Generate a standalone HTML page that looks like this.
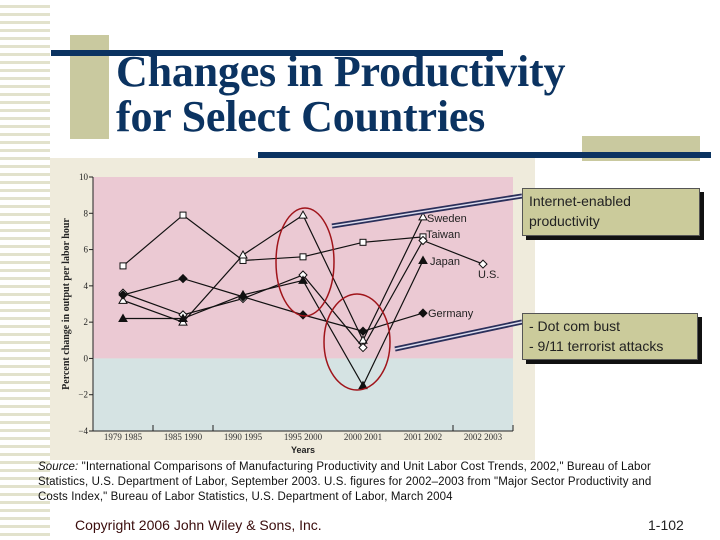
<!DOCTYPE html>
<html><head><meta charset="utf-8"><style>
body{margin:0;width:720px;height:540px;background:#fff;position:relative;overflow:hidden;font-family:"Liberation Sans",sans-serif}
.abs{position:absolute}
</style></head><body>
<div class="abs" style="left:0;top:0;width:50px;height:540px;background:repeating-linear-gradient(#fff 0 5px,#e2e2cc 5px 8px)"></div>
<div class="abs" style="left:70px;top:35px;width:39px;height:104px;background:#c9c99f"></div>
<div class="abs" style="left:51px;top:50px;width:452px;height:6px;background:#0b3361"></div>
<div class="abs" style="left:116px;top:49px;font:bold 44px/45px 'Liberation Serif',serif;color:#0b3361;letter-spacing:-0.2px">Changes in Productivity<br>for Select Countries</div>
<div class="abs" style="left:50px;top:158px;width:485px;height:302px;background:#efebdc"></div>
<div class="abs" style="left:582px;top:136px;width:118px;height:25px;background:#c9c99f"></div>
<div class="abs" style="left:258px;top:152px;width:453px;height:6px;background:#0b3361"></div>
<svg class="abs" style="left:0;top:0" width="720" height="540">
<g id="g"></g>
</svg>
<div class="abs" style="left:522px;top:188px;width:170px;height:44px;background:#cbcb9b;border:1px solid #555;box-shadow:4px 4px 0 #111;font-size:14px;line-height:20px;padding:2px 0 0 6px;color:#222">Internet-enabled<br>productivity</div>
<div class="abs" style="left:522px;top:313px;width:168px;height:43px;background:#cbcb9b;border:1px solid #555;box-shadow:4px 4px 0 #111;font-size:14px;line-height:20px;padding:2px 0 0 6px;color:#222">- Dot com bust<br>- 9/11 terrorist attacks</div>
<div class="abs" style="left:38px;top:460px;width:680px;white-space:nowrap;font-size:11.5px;line-height:15px;color:#111;letter-spacing:0.1px"><i>Source:</i> "International Comparisons of Manufacturing Productivity and Unit Labor Cost Trends, 2002," Bureau of Labor<br>Statistics, U.S. Department of Labor, September 2003. U.S. figures for 2002–2003 from "Major Sector Productivity and<br>Costs Index," Bureau of Labor Statistics, U.S. Department of Labor, March 2004</div>
<div class="abs" style="left:75px;top:517px;font-size:14px;color:#3a0c0c">Copyright 2006 John Wiley &amp; Sons, Inc.</div>
<div class="abs" style="left:648px;top:517px;font-size:14px;color:#222">1-102</div>
<script>
const categories=["1979 1985","1985 1990","1990 1995","1995 2000","2000 2001","2001 2002","2002 2003"];
const yTicks=[10,8,6,4,2,0,-2,-4];
const taiwan=[5.1,7.9,5.4,5.6,6.4,6.7];
const sweden=[3.2,2.0,5.7,7.9,1.0,7.8];
const us=[3.6,2.4,3.3,4.6,0.6,6.5,5.2];
const japan=[2.2,2.2,3.5,4.3,-1.5,5.4];
const germany=[3.5,4.4,3.4,2.4,1.5,2.5];
const NS="http://www.w3.org/2000/svg";
const g=document.getElementById('g');
const X0=93,X1=513,Y0=177,Y1=431,ymin=-4,ymax=10;
const bw=(X1-X0)/categories.length;
const xs=i=>X0+bw*(i+0.5);
const ys=v=>Y0+(ymax-v)/(ymax-ymin)*(Y1-Y0);
function mk(t,a){const e=document.createElementNS(NS,t);for(const k in a)e.setAttribute(k,a[k]);g.appendChild(e);return e;}
let e=mk('rect',{x:X0,y:Y0,width:X1-X0,height:ys(0)-Y0,fill:'#ebc9d3'});


e=mk('rect',{x:X0,y:ys(0),width:X1-X0,height:Y1-ys(0),fill:'#d5e3e3'});


mk('line',{x1:X0,y1:Y0,x2:X0,y2:Y1,stroke:'#222'});
mk('line',{x1:X0,y1:Y1,x2:X1,y2:Y1,stroke:'#222'});
yTicks.forEach(v=>{mk('line',{x1:X0-4,y1:ys(v),x2:X0,y2:ys(v),stroke:'#222'});
 const t=mk('text',{x:X0-5,y:ys(v)+3,'text-anchor':'end','font-size':9,'font-family':'Liberation Serif,serif',fill:'#222'});t.textContent=v<0?'−'+(-v):v;
 
 });
[1,2,6,7].forEach(i=>mk('line',{x1:X0+bw*i,y1:Y1,x2:X0+bw*i,y2:Y1-6,stroke:'#222'}));
categories.forEach((c,i)=>{const t=mk('text',{x:xs(i),y:Y1+9,'text-anchor':'middle','font-size':9,'font-family':'Liberation Serif,serif',fill:'#333'});t.textContent=c;
 
 });
let t=mk('text',{x:303,y:453,'text-anchor':'middle','font-size':9,'font-weight':'bold',fill:'#222'});t.textContent='Years';


t=mk('text',{x:0,y:0,transform:'translate(69,304) rotate(-90)','text-anchor':'middle','font-size':10,'font-weight':'bold','font-family':'Liberation Serif,serif',fill:'#222'});t.textContent='Percent change in output per labor hour';


function series(name,arr,marker){
 const p=mk('polyline',{points:arr.map((v,i)=>xs(i)+','+ys(v)).join(' '),fill:'none',stroke:'#111','stroke-width':1.2});
 
 
 arr.forEach((v,i)=>{const x=xs(i),y=ys(v);let m;
  if(marker==='sq')m=mk('rect',{x:x-3,y:y-3,width:6,height:6,fill:'#fff',stroke:'#111'});
  else if(marker==='tri'||marker==='ftri')m=mk('polygon',{points:`${x},${y-4} ${x-4},${y+3} ${x+4},${y+3}`,fill:marker==='tri'?'#fff':'#111',stroke:'#111'});
  else m=mk('polygon',{points:`${x},${y-4} ${x+4},${y} ${x},${y+4} ${x-4},${y}`,fill:marker==='dia'?'#fff':'#111',stroke:'#111'});
  
  });
}
series('taiwan',taiwan,'sq');series('sweden',sweden,'tri');series('us',us,'dia');series('japan',japan,'ftri');series('germany',germany,'fdia');
[['Sweden',427,222],['Taiwan',426,238],['Japan',430,265],['U.S.',478,278],['Germany',428,317]].forEach(l=>{const t=mk('text',{x:l[1],y:l[2],'font-size':11,fill:'#222'});t.textContent=l[0];
 
 });
e=mk('ellipse',{cx:305,cy:262,rx:29,ry:54,fill:'none',stroke:'#a0141a','stroke-width':1.5});


e=mk('ellipse',{cx:357,cy:342,rx:33,ry:48,fill:'none',stroke:'#a0141a','stroke-width':1.5});


[[332,226,522,196],[395,349,522,322]].forEach(c=>{
 mk('line',{x1:c[0],y1:c[1],x2:c[2],y2:c[3],stroke:'#2a2f5a','stroke-width':5});
 mk('line',{x1:c[0],y1:c[1],x2:c[2],y2:c[3],stroke:'#dde','stroke-width':1.5});});
</script>
</body></html>
